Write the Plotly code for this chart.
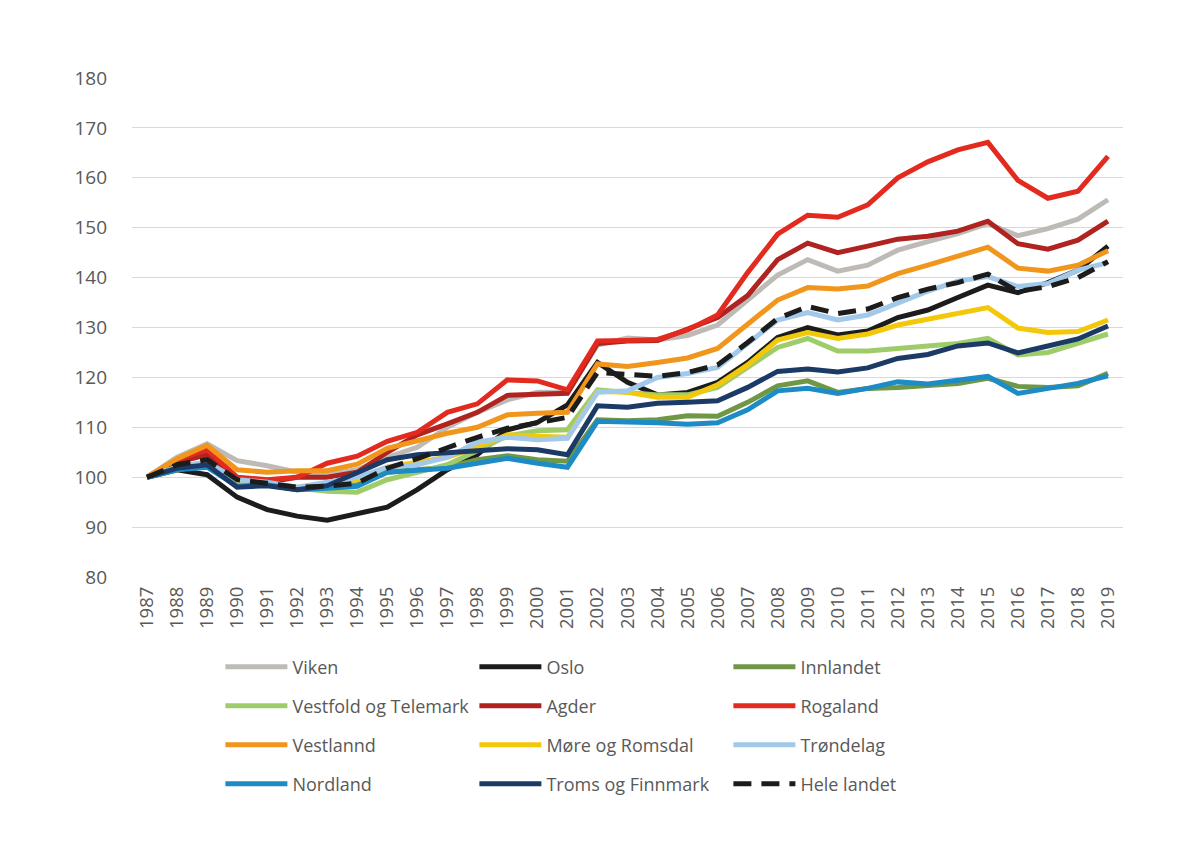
import plotly.graph_objects as go

years = [str(y) for y in range(1987, 2020)]

viken = [100, 104, 106.7, 103.3, 102.3, 101, 100.5, 101.5, 104, 106, 110, 113, 115.5, 117, 117,
         126.5, 127.9, 127.5, 128.4, 130.5, 135.5, 140.5, 143.6, 141.3, 142.5, 145.5, 147.2, 148.8,
         150.8, 148.4, 149.8, 151.7, 155.6]
oslo = [100, 101.5, 100.5, 96, 93.5, 92.2, 91.4, 92.8, 94, 97.5, 101.5, 104.5, 109.5, 111, 114.5,
        123, 119, 116.5, 117, 119, 123, 128, 130, 128.5, 129.3, 132, 133.5, 136, 138.5, 137, 139,
        141.5, 146.3]
innlandet = [100, 101.5, 102.5, 98.5, 98.5, 97.8, 98, 98.5, 101, 101.5, 102, 103.5, 104.3, 103.5,
             103.2, 111.5, 111.3, 111.5, 112.3, 112.2, 115, 118.3, 119.3, 117, 117.8, 118, 118.5,
             118.8, 119.8, 118.2, 118, 118.3, 120.8]
vestfold = [100, 102, 103, 99, 98.5, 97.8, 97.2, 97, 99.5, 101, 102.5, 105.3, 108.3, 109.3, 109.5,
            117.5, 117, 116.5, 116.5, 118, 122, 126, 127.8, 125.3, 125.3, 125.8, 126.3, 126.8,
            127.8, 124.5, 125, 126.8, 128.7]
agder = [100, 103, 104.5, 99.5, 99, 100, 100, 101, 105, 108.5, 110.7, 113, 116.4, 116.5, 116.8,
         126.8, 127.3, 127.4, 129.8, 132, 136.4, 143.6, 146.9, 145, 146.3, 147.7, 148.3, 149.3,
         151.3, 146.8, 145.7, 147.5, 151.3]
rogaland = [100, 103.5, 105.5, 100, 99.5, 100, 102.8, 104.2, 107.2, 109, 113, 114.7, 119.5, 119.3,
            117.5, 127.3, 127.4, 127.6, 129.5, 132.5, 141, 148.7, 152.5, 152.1, 154.6, 160, 163.2,
            165.6, 167.1, 159.5, 155.9, 157.3, 164.3]
vestlannd = [100, 103.7, 106.4, 101.5, 101, 101.3, 101.3, 102.6, 105.8, 107.3, 108.8, 110, 112.5,
             112.8, 113, 122.7, 122.2, 123, 123.9, 125.8, 130.5, 135.5, 138, 137.7, 138.3, 140.8,
             142.5, 144.4, 146.1, 141.9, 141.3, 142.5, 145.4]
more = [100, 102, 103, 99, 98.5, 98, 98.5, 99.5, 102, 103, 104, 106, 108.5, 108.2, 108, 117.2, 117,
        116, 116, 118.5, 122.5, 127.5, 129, 127.8, 128.7, 130.5, 131.7, 132.7, 134, 129.9, 129,
        129.2, 131.5]
trondelag = [100, 102, 103, 99.5, 99, 98, 99, 100, 102, 102.5, 104, 107, 108, 107.5, 107.8, 117,
             117.3, 120, 120.8, 122, 126.8, 131.5, 133, 131.5, 132.5, 135, 137.3, 139.3, 140.2,
             138.2, 138.8, 141.5, 143]
nordland = [100, 101.5, 102, 98.2, 98.5, 97.5, 97.8, 98.2, 101, 101.5, 101.8, 102.8, 103.8, 102.8,
            102, 111.2, 111.1, 110.9, 110.6, 110.9, 113.5, 117.3, 117.8, 116.8, 117.8, 119.1, 118.7,
            119.4, 120.2, 116.8, 117.8, 118.8, 120.3]
troms = [100, 101.8, 102.5, 98, 98.3, 97.5, 98.3, 100.8, 103.5, 104.5, 105, 105.3, 105.7, 105.5,
         104.5, 114.3, 114, 114.8, 115, 115.3, 118, 121.2, 121.7, 121.1, 121.9, 123.8, 124.6, 126.3,
         126.9, 124.9, 126.3, 127.7, 130.3]
hele = [100, 102.5, 103.5, 99.5, 98.8, 98, 98.2, 98.8, 101.8, 103.7, 105.9, 108, 109.8, 111, 112,
        121, 120.5, 120.2, 121, 122.5, 127, 131.8, 134.2, 132.8, 133.7, 136, 137.7, 139, 140.7,
        137.2, 138.2, 140, 143.2]

series = [
    ("Viken", viken, "#BEBBB7", "solid"),
    ("Oslo", oslo, "#1C1C1C", "solid"),
    ("Innlandet", innlandet, "#6F9746", "solid"),
    ("Vestfold og Telemark", vestfold, "#9FCC6B", "solid"),
    ("Agder", agder, "#AF2320", "solid"),
    ("Rogaland", rogaland, "#E32A1F", "solid"),
    ("Vestlannd", vestlannd, "#F0961D", "solid"),
    ("Møre og Romsdal", more, "#F4C80A", "solid"),
    ("Trøndelag", trondelag, "#A2C9E9", "solid"),
    ("Nordland", nordland, "#1D8BC6", "solid"),
    ("Troms og Finnmark", troms, "#1B3A66", "solid"),
    ("Hele landet", hele, "#1C1C1C", "18px,10px"),
]

legend_names = ["legend", "legend2", "legend3", "legend4"]

fig = go.Figure()
for i, (name, vals, color, dash) in enumerate(series):
    fig.add_trace(go.Scatter(x=years, y=vals, name=name, mode="lines",
                             legend=legend_names[i // 3],
                             line=dict(color=color, width=5, dash=dash)))

font_fam = "Open Sans, Lato, sans-serif"
row_y = [-0.1804, -0.2585, -0.3367, -0.4148]
legend_layout = {}
for ln, ry in zip(legend_names, row_y):
    legend_layout[ln] = dict(orientation="h", x=0.0892, xanchor="left", y=ry, yanchor="middle",
                             entrywidth=177, entrywidthmode="pixels", itemwidth=62,
                             font=dict(size=18, color="#595959"), bgcolor="rgba(0,0,0,0)")

fig.update_layout(
    width=1200, height=857,
    margin=dict(l=124, r=85, t=70, b=288),
    paper_bgcolor="white", plot_bgcolor="white",
    font=dict(family=font_fam, color="#595959", size=16),
    xaxis=dict(type="category", tickangle=-90, showgrid=False, showline=False,
               ticks="", range=[-0.5, 32.5], tickfont=dict(size=18.5, color="#595959"),
               ticklabelstandoff=5),
    yaxis=dict(range=[80, 180], dtick=10, showgrid=True, gridcolor="#D9D9D9", gridwidth=1,
               zeroline=False, showline=False, ticks="", tickfont=dict(size=19, color="#595959"),
               ticklabelstandoff=24),
    showlegend=True,
    **legend_layout,
)

fig.write_html("out.html")
